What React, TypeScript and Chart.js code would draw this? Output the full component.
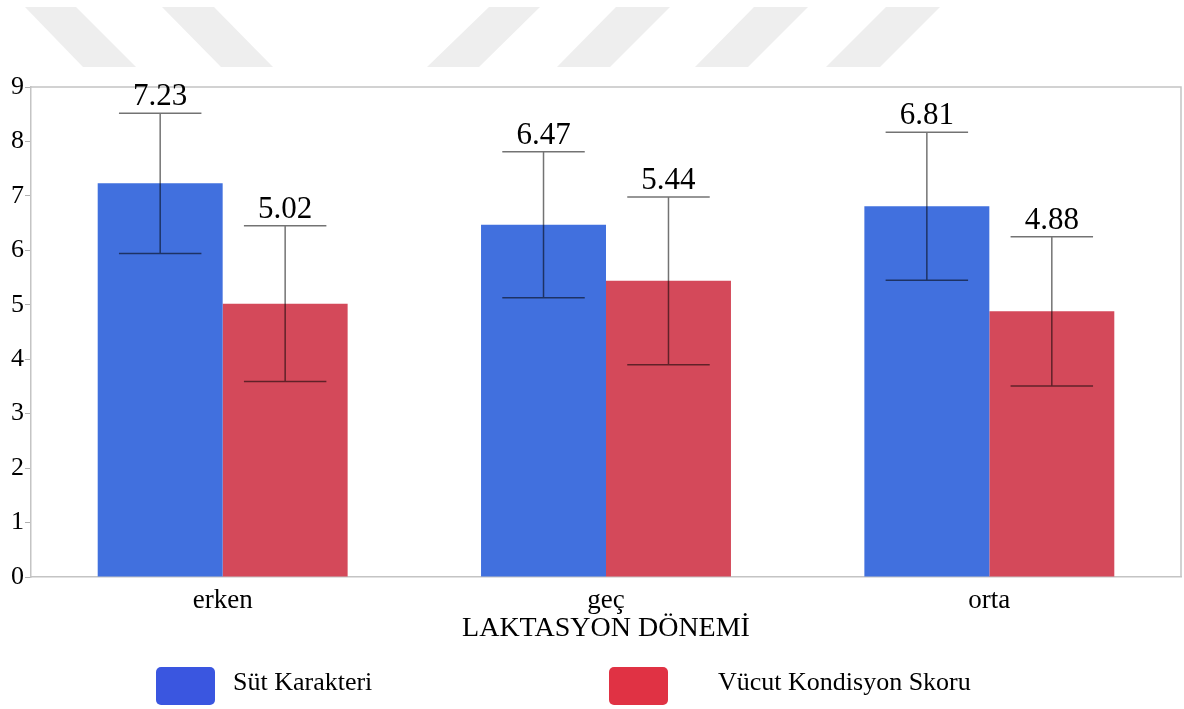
import React, { useEffect, useRef } from "react";
import { Chart, registerables } from "chart.js";

Chart.register(...registerables);

const categories = ["erken", "geç", "orta"];
const seriesNames = ["Süt Karakteri", "Vücut Kondisyon Skoru"];
const sutMeans = [7.23, 6.47, 6.81];
const sutSD = [1.29, 1.34, 1.36];
const vksMeans = [5.02, 5.44, 4.88];
const vksSD = [1.43, 1.54, 1.37];
const yTicks = [0, 1, 2, 3, 4, 5, 6, 7, 8, 9];
const xTitle = "LAKTASYON DÖNEMİ";

const FONT = '"Liberation Serif", "Times New Roman", serif';
const barColors = ["#4170DE", "#D4495A"];
const legendColors = ["#3A56E0", "#E03244"];

const errorPlugin = {
  id: "errorBarsAndLabels",
  afterDatasetsDraw(chart: any) {
    const ctx = chart.ctx;
    const yScale = chart.scales.y;
    const sds = [sutSD, vksSD];
    chart.data.datasets.forEach((ds: any, di: number) => {
      const meta = chart.getDatasetMeta(di);
      meta.data.forEach((bar: any, i: number) => {
        const v = ds.data[i];
        const sd = sds[di][i];
        const yTop = yScale.getPixelForValue(v + sd);
        const yBot = yScale.getPixelForValue(v - sd);
        const capHalf = (bar.width * 0.66) / 2;
        ctx.save();
        ctx.strokeStyle = "rgba(0,0,0,0.55)";
        ctx.lineWidth = 1.5;
        ctx.beginPath();
        ctx.moveTo(bar.x, yTop);
        ctx.lineTo(bar.x, yBot);
        ctx.moveTo(bar.x - capHalf, yTop);
        ctx.lineTo(bar.x + capHalf, yTop);
        ctx.moveTo(bar.x - capHalf, yBot);
        ctx.lineTo(bar.x + capHalf, yBot);
        ctx.stroke();
        ctx.fillStyle = "#000";
        ctx.font = `31px ${FONT}`;
        ctx.textAlign = "center";
        ctx.textBaseline = "alphabetic";
        ctx.fillText(v.toFixed(2), bar.x, yTop - 8);
        ctx.restore();
      });
    });
  },
};

const framePlugin = {
  id: "frame",
  beforeDatasetsDraw(chart: any) {
    const { ctx, chartArea } = chart;
    ctx.save();
    ctx.strokeStyle = "#c4c4c4";
    ctx.lineWidth = 1.5;
    ctx.beginPath();
    ctx.moveTo(chartArea.left, chartArea.top);
    ctx.lineTo(chartArea.right, chartArea.top);
    ctx.lineTo(chartArea.right, chartArea.bottom);
    ctx.stroke();
    ctx.restore();
  },
};

const legendPlugin = {
  id: "customLegend",
  afterDraw(chart: any) {
    const ctx = chart.ctx;
    const items = [
      { box: 156, text: 233 },
      { box: 609, text: 718 },
    ];
    ctx.save();
    items.forEach((it, i) => {
      ctx.fillStyle = legendColors[i];
      ctx.beginPath();
      (ctx as any).roundRect(it.box, 667, 59, 38, 5);
      ctx.fill();
      ctx.fillStyle = "#000";
      ctx.font = `26px ${FONT}`;
      ctx.textAlign = "left";
      ctx.textBaseline = "alphabetic";
      ctx.fillText(seriesNames[i], it.text, 690);
    });
    ctx.restore();
  },
};

function Watermark() {
  const shapes = [
    [25, 76, 136, 83],
    [162, 214, 273, 221],
    [489, 540, 479, 427],
    [616, 670, 610, 557],
    [754, 808, 748, 695],
    [886, 940, 880, 826],
  ];
  return (
    <svg
      width={1184}
      height={80}
      style={{ position: "absolute", left: 0, top: 0 }}
    >
      {shapes.map((s, i) => (
        <polygon
          key={i}
          points={`${s[0]},7 ${s[1]},7 ${s[2]},67 ${s[3]},67`}
          fill="#eeeeee"
        />
      ))}
    </svg>
  );
}

export default function App() {
  const ref = useRef<HTMLCanvasElement>(null);
  useEffect(() => {
    if (!ref.current) return;
    const chart = new Chart(ref.current, {
      type: "bar",
      data: {
        labels: categories,
        datasets: [
          {
            label: seriesNames[0],
            data: sutMeans,
            backgroundColor: barColors[0],
            categoryPercentage: 0.652,
            barPercentage: 1.0,
          },
          {
            label: seriesNames[1],
            data: vksMeans,
            backgroundColor: barColors[1],
            categoryPercentage: 0.652,
            barPercentage: 1.0,
          },
        ],
      },
      options: {
        animation: false,
        responsive: true,
        maintainAspectRatio: false,
        layout: { padding: { top: 87, right: 3, bottom: 59, left: 0 } },
        plugins: {
          legend: { display: false },
          tooltip: { enabled: false },
        },
        scales: {
          x: {
            grid: { display: false },
            border: { display: true, color: "#c4c4c4", width: 1.5 },
            ticks: {
              color: "#000",
              font: { family: FONT, size: 27 },
              padding: 0,
            },
            title: {
              display: true,
              text: xTitle,
              color: "#000",
              font: { family: FONT, size: 28 },
              padding: { top: 0, bottom: 5 },
            },
            afterFit(scale: any) {
              scale.height = 73;
            },
          },
          y: {
            min: 0,
            max: 9,
            afterBuildTicks(scale: any) {
              scale.ticks = yTicks.map((v) => ({ value: v }));
            },
            grid: {
              display: true,
              drawOnChartArea: false,
              drawTicks: true,
              tickLength: 6,
              color: "#b0b0b0",
            },
            border: { display: true, color: "#c4c4c4", width: 1.5 },
            ticks: {
              color: "#000",
              font: { family: FONT, size: 26 },
              padding: 1,
            },
            afterFit(scale: any) {
              scale.width = 31;
            },
          },
        },
      },
      plugins: [framePlugin, errorPlugin, legendPlugin],
    });
    return () => chart.destroy();
  }, []);

  return (
    <div
      style={{
        position: "absolute",
        left: 0,
        top: 0,
        width: 1184,
        height: 709,
        background: "#fff",
      }}
    >
      <Watermark />
      <div style={{ position: "absolute", left: 0, top: 0, width: 1184, height: 709 }}>
        <canvas ref={ref} />
      </div>
    </div>
  );
}
